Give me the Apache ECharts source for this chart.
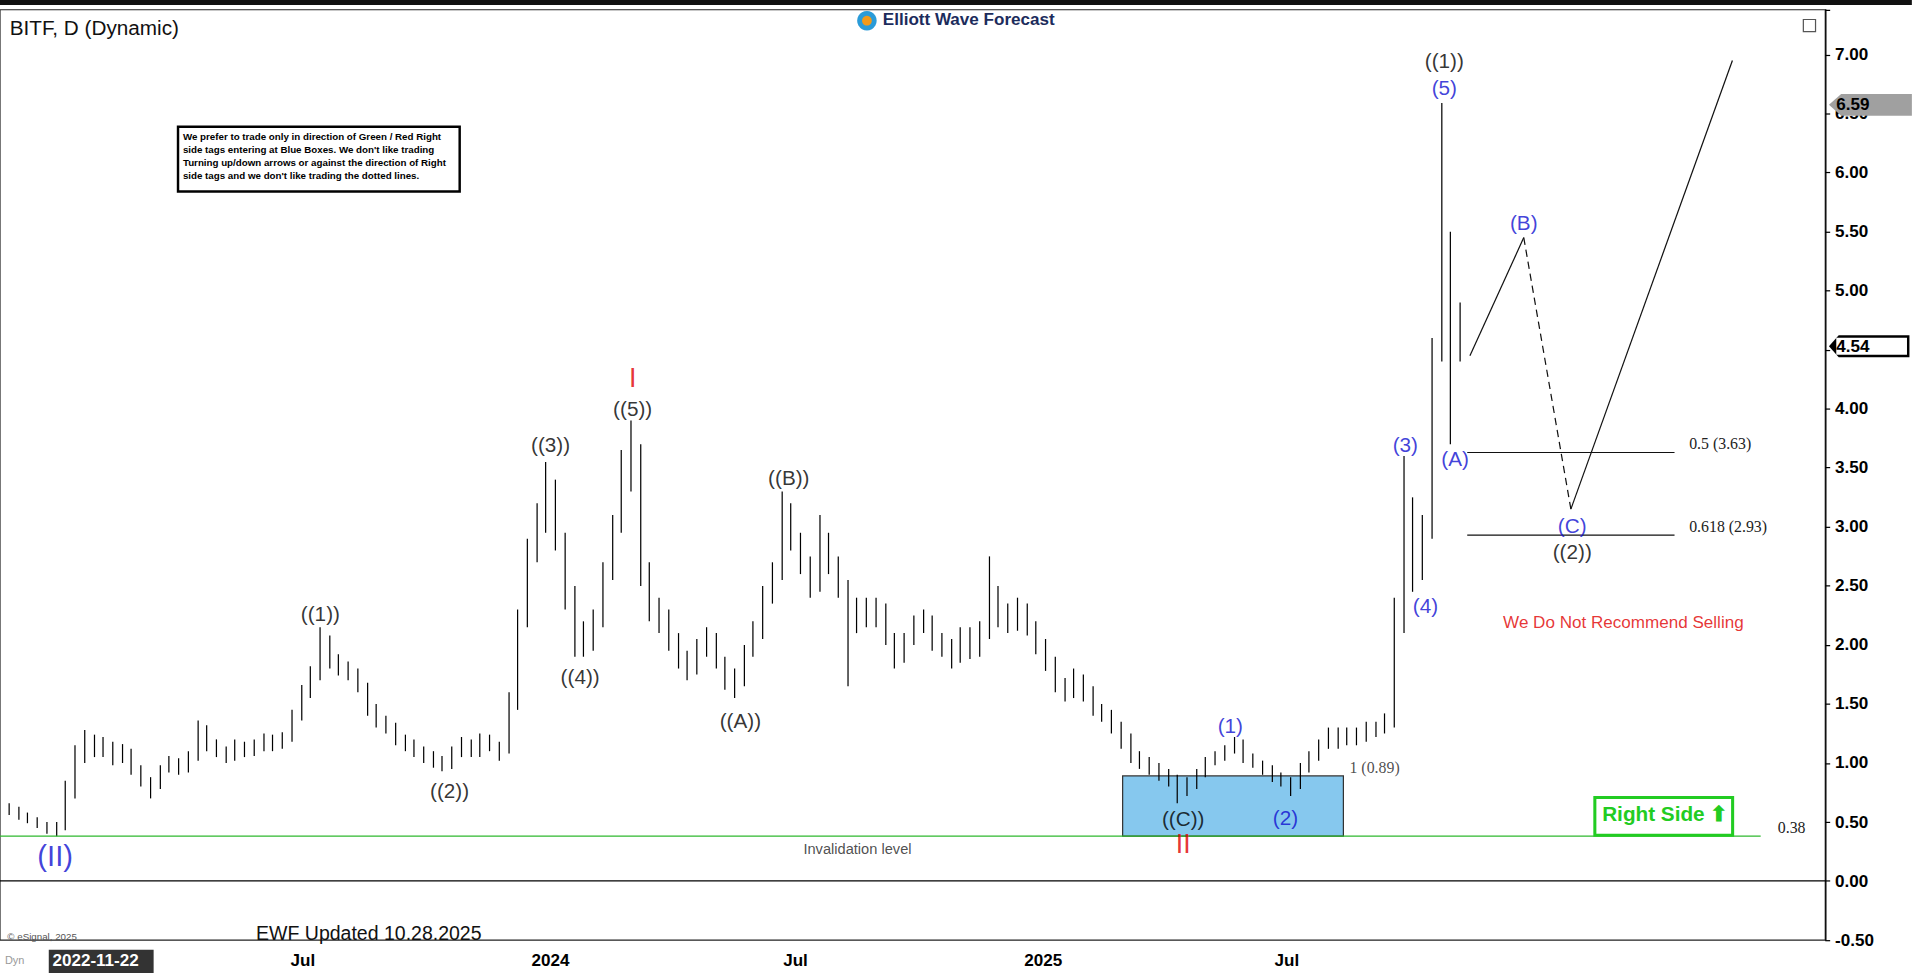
<!DOCTYPE html>
<html><head><meta charset="utf-8">
<script src="https://cdn.jsdelivr.net/npm/echarts@6/dist/echarts.min.js"></script>
<style>
html,body{margin:0;padding:0;overflow:hidden;background:#fff;}
#wrap{width:1568px;height:803px;zoom:1.2193;}
</style></head><body>
<div id="wrap"></div>
<script>
// weekly bars starting 2022-11-18
const startDate = '2022-11-18';
const firstOpen = 0.64;
const closes = [0.62,0.60,0.55,0.52,0.48,0.42,0.45,0.75,1.05,1.20,1.10,1.15,1.05,1.10,0.95,0.85,0.80,0.95,1.00,0.95,1.05,1.30,1.15,1.10,1.05,1.15,1.10,1.15,1.20,1.15,1.20,1.40,1.60,1.75,2.05,1.85,1.80,1.75,1.65,1.45,1.35,1.30,1.20,1.15,1.10,1.05,1.00,0.98,1.10,1.15,1.10,1.20,1.15,1.10,1.50,2.20,2.80,3.00,3.30,2.90,2.40,2.10,2.00,2.20,2.60,3.00,3.50,3.60,2.60,2.30,2.20,2.05,1.90,1.80,1.95,2.05,1.85,1.70,1.70,1.95,2.10,2.40,2.60,3.10,2.90,2.70,2.50,2.90,2.70,2.50,2.20,2.30,2.25,2.30,2.10,1.90,2.05,2.15,2.20,2.05,2.00,1.90,2.10,1.95,2.10,2.40,2.25,2.20,2.30,2.15,2.00,1.85,1.65,1.60,1.70,1.60,1.45,1.40,1.30,1.20,1.05,1.00,0.95,0.90,0.85,0.75,0.80,0.90,1.00,1.05,1.10,1.15,1.05,1.00,0.95,0.88,0.85,0.80,0.95,1.05,1.15,1.25,1.20,1.25,1.22,1.30,1.28,1.35,2.20,3.20,2.60,3.00,4.50,5.60,4.60,4.54];
const highs = [0.68,0.66,0.63,0.58,0.54,0.50,0.50,0.85,1.15,1.28,1.24,1.22,1.18,1.16,1.12,0.98,0.88,0.98,1.06,1.04,1.10,1.36,1.32,1.20,1.14,1.20,1.18,1.20,1.25,1.24,1.26,1.45,1.66,1.82,2.15,2.08,1.92,1.86,1.80,1.68,1.50,1.40,1.34,1.24,1.20,1.14,1.10,1.06,1.14,1.22,1.20,1.25,1.24,1.18,1.60,2.30,2.90,3.20,3.55,3.40,2.95,2.50,2.20,2.30,2.70,3.10,3.65,3.90,3.70,2.70,2.40,2.30,2.10,1.95,2.05,2.15,2.10,1.90,1.80,2.00,2.20,2.50,2.70,3.30,3.20,2.95,2.75,3.10,2.95,2.75,2.55,2.40,2.40,2.40,2.35,2.10,2.10,2.25,2.30,2.25,2.10,2.05,2.15,2.15,2.20,2.75,2.50,2.35,2.40,2.35,2.20,2.05,1.90,1.72,1.80,1.75,1.65,1.50,1.45,1.35,1.25,1.10,1.05,1.00,0.95,0.90,0.88,0.95,1.05,1.10,1.15,1.22,1.20,1.08,1.02,0.98,0.92,0.88,1.00,1.10,1.20,1.30,1.30,1.30,1.30,1.35,1.35,1.42,2.40,3.60,3.25,3.10,4.60,6.59,5.50,4.90];
const lows = [0.58,0.56,0.52,0.49,0.45,0.40,0.38,0.43,0.70,1.00,1.05,1.05,0.98,1.00,0.90,0.80,0.70,0.78,0.92,0.90,0.92,1.02,1.10,1.05,1.00,1.02,1.05,1.06,1.10,1.10,1.12,1.18,1.36,1.55,1.70,1.80,1.74,1.70,1.60,1.40,1.30,1.25,1.15,1.10,1.05,1.00,0.96,0.93,0.95,1.05,1.05,1.05,1.10,1.02,1.08,1.45,2.15,2.70,2.95,2.80,2.30,1.90,1.90,1.95,2.15,2.55,2.95,3.30,2.50,2.20,2.10,1.95,1.80,1.70,1.75,1.90,1.80,1.62,1.55,1.65,1.90,2.05,2.35,2.55,2.80,2.60,2.40,2.45,2.60,2.40,1.65,2.10,2.15,2.15,2.00,1.80,1.85,2.00,2.10,1.95,1.90,1.80,1.85,1.88,1.90,2.05,2.15,2.10,2.12,2.08,1.92,1.78,1.60,1.52,1.55,1.52,1.40,1.35,1.25,1.12,1.00,0.95,0.90,0.85,0.80,0.66,0.72,0.78,0.88,0.98,1.02,1.08,1.00,0.96,0.90,0.84,0.80,0.72,0.78,0.92,1.02,1.12,1.12,1.15,1.15,1.18,1.22,1.25,1.30,2.10,2.45,2.55,2.90,4.40,3.70,4.40];

const waveLabels = [
 ['2022-12-29',0.21,'(II)','#1010d0',24],
 ['2023-07-14',2.27,'((1))','#000',17],
 ['2023-10-18',0.77,'((2))','#000',17],
 ['2024-01-01',3.70,'((3))','#000',17],
 ['2024-01-23',1.73,'((4))','#000',17],
 ['2024-03-02',4.26,'I','#e00000',22],
 ['2024-03-02',4.00,'((5))','#000',17],
 ['2024-05-21',1.36,'((A))','#000',17],
 ['2024-06-26',3.42,'((B))','#000',17],
 ['2025-04-15',0.53,'((C))','#000',17],
 ['2025-04-15',0.31,'II','#e00000',22],
 ['2025-05-20',1.32,'(1)','#1010d0',17],
 ['2025-06-30',0.54,'(2)','#1010d0',17],
 ['2025-09-27',3.70,'(3)','#1010d0',17],
 ['2025-10-12',2.33,'(4)','#1010d0',17],
 ['2025-10-26',6.95,'((1))','#000',17],
 ['2025-10-26',6.72,'(5)','#1010d0',17],
 ['2025-11-03',3.58,'(A)','#1010d0',17],
 ['2025-12-24',5.58,'(B)','#1010d0',17],
 ['2026-01-29',3.01,'(C)','#1010d0',17],
 ['2026-01-29',2.79,'((2))','#000',17]
];
const projSolid1 = [['2025-11-14',4.45],['2025-12-24',5.45]];
const projDashed = [['2025-12-24',5.45],['2026-01-28',3.15]];
const projSolid2 = [['2026-01-28',3.15],['2026-05-28',6.95]];
const fibLevels = [[3.63,'0.5 (3.63)'],[2.93,'0.618 (2.93)']];
const fibStart = '2025-11-12', fibEnd = '2026-04-15';
const invalidation = 0.38, invalidEnd = '2026-06-18';
const boxRange = [['2025-03-01',0.38],['2025-08-12',0.89]];

const DAY = 86400000;
const t0 = new Date(startDate + 'T00:00:00Z').getTime();
const ohlc = closes.map((c,i)=>{
  const o = i===0 ? firstOpen : closes[i-1];
  return [t0 + i*7*DAY, o, c, lows[i], highs[i]];
});
const ts = s => new Date(s+'T00:00:00Z').getTime();

const chart = echarts.init(document.getElementById('wrap'), null, {renderer:'svg', width:1568, height:803});
const FONT = 'Arial, Liberation Sans, sans-serif';
const SERIF = 'Times New Roman, Liberation Serif, serif';
const series = [
 {type:'candlestick', data:ohlc, barWidth:1.2,
  itemStyle:{color:'#000',color0:'#000',borderColor:'#000',borderColor0:'#000',borderWidth:1},
  markArea:{silent:true, itemStyle:{color:'#86c8ee',borderColor:'#333',borderWidth:1},
    data:[[{coord:[ts(boxRange[0][0]),boxRange[0][1]]},{coord:[ts(boxRange[1][0]),boxRange[1][1]]}]]},
  z:3},
 {type:'line', data:[[t0,invalidation],[ts(invalidEnd),invalidation]], symbol:'none', lineStyle:{color:'#2eb82e',width:1}, z:4,
  endLabel:{show:true, formatter:'0.38', color:'#222', fontFamily:SERIF, fontSize:13, offset:[6,-7]}},
 ...fibLevels.map(f=>({type:'line', data:[[ts(fibStart),f[0]],[ts(fibEnd),f[0]]], symbol:'none', lineStyle:{color:'#111',width:1}, z:4,
  endLabel:{show:true, formatter:f[1], color:'#222', fontFamily:SERIF, fontSize:13, offset:[4,-7]}})),
 {type:'scatter', data:[[ts(boxRange[1][0]),boxRange[1][1]]], symbolSize:0, z:4,
  label:{show:true, position:'right', formatter:'1 (0.89)', color:'#222', fontFamily:SERIF, fontSize:13, offset:[0,-7]}},
 {type:'line', data:projSolid1.map(p=>[ts(p[0]),p[1]]), symbol:'none', lineStyle:{color:'#111',width:1}, z:4},
 {type:'line', data:projDashed.map(p=>[ts(p[0]),p[1]]), symbol:'none', lineStyle:{color:'#111',width:1,type:[6,4]}, z:4},
 {type:'line', data:projSolid2.map(p=>[ts(p[0]),p[1]]), symbol:'none', lineStyle:{color:'#111',width:1}, z:4},
 {type:'scatter', symbolSize:0, z:6,
  data:waveLabels.map(w=>({value:[ts(w[0]),w[1]], label:{show:true, position:'inside', formatter:w[2], color:w[3], fontSize:w[4], fontFamily:FONT}}))},
 {type:'scatter', symbolSize:0, z:6, data:[
   {value:[ts('2024-08-16'),0.27], label:{show:true,position:'inside',formatter:'Invalidation level',color:'#222',fontSize:12,fontFamily:FONT}},
   {value:[ts('2026-03-08'),2.19], label:{show:true,position:'inside',formatter:'We Do Not Recommend Selling',color:'#e00000',fontSize:14,fontFamily:'Liberation Sans Narrow, Arial Narrow, sans-serif'}}
 ]}
];

const labelFrom = ts('2023-03-01'), labelTo = ts('2025-09-01');
chart.setOption({
 animation:false,
 grid:{left:0,right:71,top:8,bottom:32,show:true,borderColor:'#222',borderWidth:1},
 xAxis:{type:'time', min:ts('2022-11-18'), max:ts('2026-08-05'), splitNumber:44,
   minInterval:28*DAY,
   axisLine:{lineStyle:{color:'#000'}}, axisTick:{show:false}, splitLine:{show:false},
   axisLabel:{margin:10, color:'#000', fontWeight:'bold', fontSize:14, fontFamily:FONT, hideOverlap:false,
     formatter:function(v){ if(v<labelFrom||v>labelTo) return ''; const d=new Date(v); if(d.getUTCDate()!==1 && d.getDate()!==1) return ''; const m=d.getMonth(); if(m===0) return String(d.getFullYear()); if(m===6) return 'Jul'; return '';}}},
 yAxis:{type:'value', position:'right', min:-0.5, max:7.38, interval:0.5,
   axisLine:{show:true,lineStyle:{color:'#000'}}, axisTick:{show:true,length:4,lineStyle:{color:'#000'}}, splitLine:{show:false},
   axisLabel:{color:'#000', fontWeight:'bold', fontSize:14, margin:8, fontFamily:FONT,
     formatter:function(v){return Math.abs(v*2-Math.round(v*2))<1e-6 ? v.toFixed(2) : '';}}},
 series:series,
 graphic:[
  {type:'rect', z:100, shape:{x:0,y:0,width:1568,height:4}, style:{fill:'#111'}},
  {type:'text', z:100, left:8, top:14, style:{text:'BITF, D (Dynamic)', fontSize:17, fill:'#111', fontFamily:FONT}},
  {type:'circle', z:100, shape:{cx:711,cy:17,r:8}, style:{fill:'#2a9bd8'}},
  {type:'circle', z:100, shape:{cx:711,cy:17,r:4}, style:{fill:'#f29a1a'}},
  {type:'text', z:100, left:724, top:9, style:{text:'Elliott Wave Forecast', fontSize:14, fontWeight:'bold', fill:'#1c2c5c', fontFamily:FONT}},
  {type:'rect', z:100, shape:{x:146,y:104,width:231,height:53}, style:{fill:'#fff',stroke:'#000',lineWidth:2}},
  {type:'text', z:101, left:150, top:107, style:{text:'We prefer to trade only in direction of Green / Red Right\nside tags entering at Blue Boxes. We don\'t like trading\nTurning up/down arrows or against the direction of Right\nside tags and we don\'t like trading the dotted lines.', fontSize:8, lineHeight:10.5, fontWeight:'bold', fill:'#000', fontFamily:'Liberation Sans Narrow, Arial Narrow, sans-serif'}},
  {type:'rect', z:100, shape:{x:1308,y:654,width:113,height:31}, style:{fill:'#fff',stroke:'#22cc22',lineWidth:2.5}},
  {type:'text', z:101, left:1314, top:659, style:{text:'Right Side ⬆', fontSize:17, fontWeight:'bold', fill:'#22cc22', fontFamily:FONT}},
  {type:'text', z:100, left:210, top:757, style:{text:'EWF Updated 10.28.2025', fontSize:16, fill:'#111', fontFamily:FONT}},
  {type:'text', z:100, left:6, top:764, style:{text:'© eSignal, 2025', fontSize:8, fill:'#555'}},
  {type:'rect', z:100, shape:{x:40,y:779,width:86,height:19}, style:{fill:'#333'}},
  {type:'text', z:101, left:43, top:781, style:{text:'2022-11-22', fontSize:14, fontWeight:'bold', fill:'#fff', fontFamily:FONT}},
  {type:'text', z:100, left:4, top:783, style:{text:'Dyn', fontSize:9, fill:'#999'}},
  {type:'polygon', z:100, shape:{points:[[1500,86],[1510,77],[1568,77],[1568,95],[1510,95]]}, style:{fill:'#a0a0a0'}},
  {type:'text', z:101, left:1506, top:79, style:{text:'6.59', fontSize:14, fontWeight:'bold', fill:'#000', fontFamily:FONT}},
  {type:'polygon', z:100, shape:{points:[[1500,284],[1508,275],[1566,275],[1566,293],[1508,293]]}, style:{fill:'#000'}},
  {type:'rect', z:101, shape:{x:1506,y:277,width:58,height:14}, style:{fill:'#fff'}},
  {type:'text', z:102, left:1506, top:277, style:{text:'4.54', fontSize:14, fontWeight:'bold', fill:'#000', fontFamily:FONT}},
  {type:'rect', z:100, shape:{x:1479,y:16,width:10,height:10}, style:{fill:'#fff',stroke:'#555',lineWidth:1}}
 ]
});
</script></body></html>
